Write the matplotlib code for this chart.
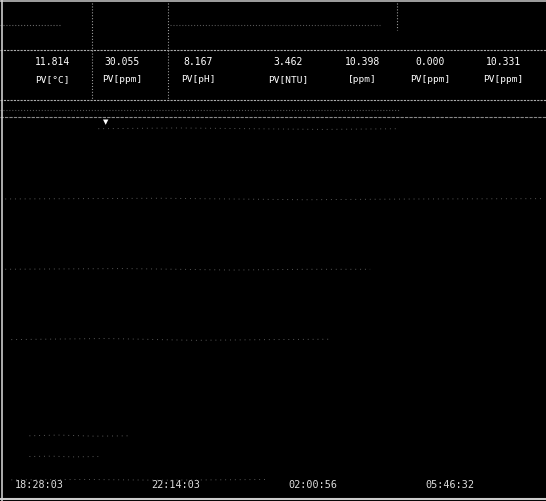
import matplotlib
matplotlib.use('Agg')
import matplotlib.pyplot as plt
from matplotlib.lines import Line2D

# Текущие значения каналов и их единицы
values = ['11.814', '30.055', '8.167', '3.462', '10.398', '0.000', '10.331']
units = ['PV[°C]', 'PV[ppm]', 'PV[pH]', 'PV[NTU]', '[ppm]', 'PV[ppm]', 'PV[ppm]']
col_centers = [52, 122, 198, 288, 362, 430, 503]

# Метки времени по оси X (часы от начала записи)
time_labels = ['18:28:03', '22:14:03', '02:00:56', '05:46:32']
time_ticks = [0.0, 3.77, 7.54, 11.31]

# Тренды (время в часах, значение в % шкалы)
trend_times = [
    [2.3, 4.5, 6.5, 8.5, 10.6],
    [-0.4, 4.0, 8.0, 11.0, 14.6],
    [-0.4, 3.0, 6.0, 8.0, 9.8],
    [-0.1, 2.5, 5.0, 7.0, 8.7],
    [0.4, 1.2, 2.2, 3.2],
    [0.4, 1.0, 1.6, 2.3],
    [-0.1, 2.0, 4.0, 5.5, 7.0],
]
trend_values = [
    [99.0, 99.2, 99.0, 98.8, 99.0],
    [80.0, 80.2, 79.8, 80.0, 80.1],
    [61.0, 61.2, 60.8, 61.0, 61.0],
    [42.0, 42.3, 41.8, 42.0, 42.1],
    [16.0, 16.2, 15.9, 16.0],
    [10.4, 10.5, 10.3, 10.4],
    [4.1, 4.2, 4.0, 4.1, 4.2],
]

W, H = 546, 501
fig = plt.figure(figsize=(W / 100, H / 100), dpi=100, facecolor='black')


def fx(x):
    return x / W


def fy(y):
    return 1 - y / H


mono = 'DejaVu Sans Mono'

# Рамка и разделители заголовка
def hline(y, x0=0, x1=W, color='#bbbbbb', ls='-', lw=0.8):
    fig.add_artist(Line2D([fx(x0), fx(x1)], [fy(y), fy(y)], color=color, ls=ls, lw=lw))


def vline(x, y0, y1, color='#999999', ls=':', lw=0.8):
    fig.add_artist(Line2D([fx(x), fx(x)], [fy(y0), fy(y1)], color=color, ls=ls, lw=lw))


hline(1, 0, W, color='#bbbbbb', lw=1.2)
hline(25, 0, 60, color='#666666', ls=':')
hline(25, 170, 380, color='#555555', ls=':')
hline(50, color='#aaaaaa', ls=(0, (2, 1)))
hline(100, color='#aaaaaa', ls=(0, (2, 1)))
hline(110, 0, 400, color='#555555', ls=':')
hline(117, color='#888888', ls=(0, (3, 1)))
hline(499, color='#cccccc', lw=1.5)
vline(2, 0, 501, color='#cccccc', ls='-', lw=1.2)
vline(92, 0, 100)
vline(168, 0, 100)
vline(397, 0, 30)

for x, v, u in zip(col_centers, values, units):
    fig.text(fx(x), fy(62), v, color='white', fontsize=7, family=mono,
             ha='center', va='center')
    fig.text(fx(x), fy(80), u, color='white', fontsize=6.8, family=mono,
             ha='center', va='center')

# Маркер курсора
fig.text(fx(106), fy(122), '▼', color='white', fontsize=5, ha='center', va='center')

# Область трендов
ax = fig.add_axes([fx(4), fy(495), 1 - fx(4), fy(125) - fy(495)])
ax.set_facecolor('black')
for t, v in zip(trend_times, trend_values):
    ax.plot(t, v, color='#5a5a5a', ls=(0, (1, 4)), lw=0.7)

ax.set_xlim(-0.30, 14.65)
ax.set_ylim(0, 100)
ax.set_yticks([])
ax.set_xticks(time_ticks)
ax.set_xticklabels(time_labels, family=mono, fontsize=7.3, color='#dddddd', ha='left')
ax.tick_params(axis='x', direction='in', length=0, pad=-11)
for s in ax.spines.values():
    s.set_visible(False)

fig.savefig('out.png', dpi=100, facecolor='black')
